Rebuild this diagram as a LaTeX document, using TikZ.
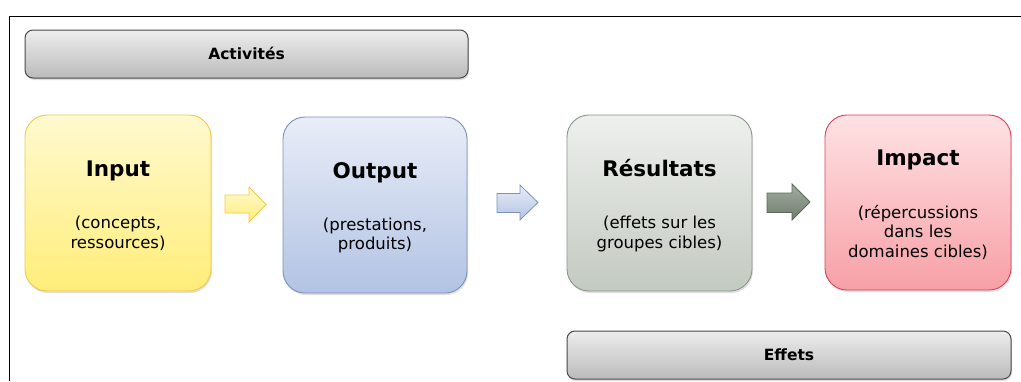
\documentclass[tikz,border=0pt]{standalone}
\usepackage{fontspec}
\setmainfont{DejaVu Sans}
\usetikzlibrary{shadows}
\definecolor{inTop}{HTML}{FFF9CF}
\definecolor{inBot}{HTML}{FFEE7A}
\definecolor{inLine}{HTML}{F2C94A}
\definecolor{outTop}{HTML}{E9EDF8}
\definecolor{outBot}{HTML}{B2C3E3}
\definecolor{outLine}{HTML}{7C92B9}
\definecolor{resTop}{HTML}{EEF0ED}
\definecolor{resBot}{HTML}{C3CAC1}
\definecolor{resLine}{HTML}{8B978A}
\definecolor{impTop}{HTML}{FFE2E4}
\definecolor{impBot}{HTML}{F7A0A6}
\definecolor{impLine}{HTML}{D9435A}
\definecolor{grTop}{HTML}{EDEDED}
\definecolor{grBot}{HTML}{BBBBBB}
\definecolor{grLine}{HTML}{4A4A4A}
\definecolor{a3Top}{HTML}{A3AEA1}
\definecolor{a3Bot}{HTML}{6E7D6C}
\definecolor{a3Line}{HTML}{5C685B}
\tikzset{
  bigbox/.style={rounded corners=22pt, line width=0.9pt, drop shadow={opacity=0.25, shadow xshift=1pt, shadow yshift=-2pt}},
  barbox/.style={rounded corners=8pt, line width=1pt, draw=grLine, top color=grTop, bottom color=grBot, drop shadow={opacity=0.25, shadow xshift=1pt, shadow yshift=-2pt}},
  titletext/.style={font=\bfseries\fontsize{21.5}{25}\selectfont, anchor=base, inner sep=0pt},
  bodytext/.style={font=\fontsize{16.5}{19.5}\selectfont, align=center, anchor=base, inner sep=0pt},
  bartext/.style={font=\bfseries\fontsize{15.5}{18}\selectfont, anchor=base, inner sep=0pt},
  arrowshape/.style={line width=0.8pt, line join=miter},
}
\begin{document}
\begin{tikzpicture}[x=1pt,y=-1pt]
\useasboundingbox (0,0) rectangle (1021,381);
% frame
\coordinate (fA) at (9.5,381);
\coordinate (fB) at (9.5,16.5);
\coordinate (fC) at (1021,16.5);
\draw[line width=1.6pt] (fA) -- (fB) -- (fC);

% bars
\path[barbox] (25,30) rectangle (468,78);
\node[bartext] (act) at (246.5,59) {Activités};
\path[barbox] (567,331) rectangle (1011,379);
\node[bartext] (eff) at (789,360) {Effets};

% boxes
\path[bigbox, draw=inLine, top color=inTop, bottom color=inBot] (25,115) rectangle (211,291);
\path[bigbox, draw=outLine, top color=outTop, bottom color=outBot] (283,117) rectangle (467,293);
\path[bigbox, draw=resLine, top color=resTop, bottom color=resBot] (567,115) rectangle (752,291);
\path[bigbox, draw=impLine, top color=impTop, bottom color=impBot] (825,115) rectangle (1011,290);

% titles
\node[titletext] (tin) at (118,176) {Input};
\node[titletext] (tout) at (375,178) {Output};
\node[titletext] (tres) at (659.5,176) {Résultats};
\node[titletext] (timp) at (918,165) {Impact};

% bodies (anchor base = baseline of last line)
\node[bodytext] (bin) at (118,248) {(concepts,\\ressources)};
\node[bodytext] (bout) at (375,249.5) {(prestations,\\produits)};
\node[bodytext] (bres) at (659.5,248) {(effets sur les\\groupes cibles)};
\node[bodytext] (bimp) at (918,257) {(répercussions\\dans les\\domaines cibles)};

% arrows
\path[arrowshape, draw=inLine, top color=inTop, bottom color=inBot]
  (225,195) -- (249,195) -- (249,187) -- (266,204.5) -- (249,222) -- (249,213) -- (225,213) -- cycle;
\path[arrowshape, draw=outLine, top color=outTop, bottom color=outBot]
  (497,193.5) -- (520,193.5) -- (520,185) -- (538,202.5) -- (520,220) -- (520,212.5) -- (497,212.5) -- cycle;
\path[arrowshape, draw=a3Line, top color=a3Top, bottom color=a3Bot]
  (767,193) -- (792,193) -- (792,184) -- (810,202) -- (792,220) -- (792,212.5) -- (767,212.5) -- cycle;
\end{tikzpicture}
\end{document}
